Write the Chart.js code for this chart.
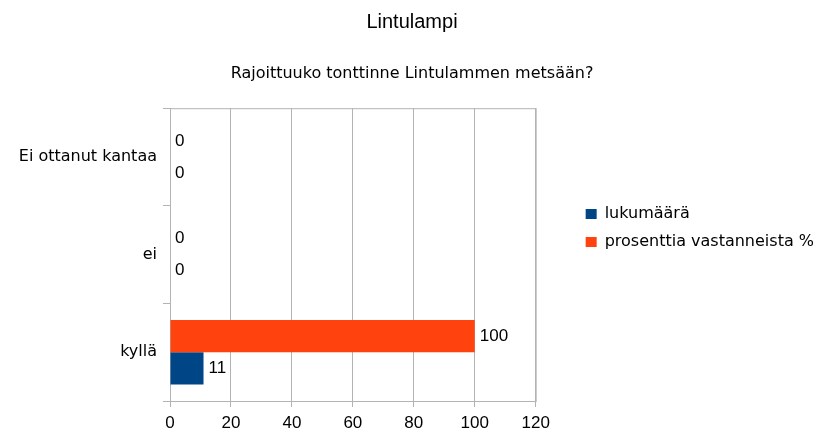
<!DOCTYPE html>
<html>
<head>
<meta charset="utf-8">
<script src="https://cdn.jsdelivr.net/npm/chart.js@4"></script>
<style>
  html, body { margin: 0; padding: 0; background: #fff; }
  #wrap { width: 824px; height: 436px; }
</style>
</head>
<body>
<div id="wrap"><canvas id="chartLintulampi"></canvas></div>
<script>
const kategoriat = ['Ei ottanut kantaa', 'ei', 'kyllä'];
const lukumaara = [0, 0, 11];
const prosentti = [0, 0, 100];
const xTicks = [0, 20, 40, 60, 80, 100, 120];

const harmaa = '#b3b3b3';

// arvot palkkien päähän
const arvoLabelit = {
  id: 'arvoLabelit',
  afterDatasetsDraw(chart) {
    const ctx = chart.ctx;
    ctx.save();
    ctx.font = '17px "Liberation Sans", Arial, sans-serif';
    ctx.fillStyle = '#000';
    ctx.textAlign = 'left';
    ctx.textBaseline = 'middle';
    chart.data.datasets.forEach((ds, i) => {
      chart.getDatasetMeta(i).data.forEach((el, j) => {
        ctx.fillText(ds.data[j], el.x + 5, el.y);
      });
    });
    ctx.restore();
  }
};

// kehys kaavioalueen ympärille
const kehys = {
  id: 'kehys',
  beforeDatasetsDraw(chart) {
    const { ctx, chartArea: a } = chart;
    ctx.save();
    ctx.strokeStyle = harmaa;
    ctx.lineWidth = 1;
    ctx.strokeRect(a.left + 0.5, a.top + 0.5, a.width, a.height);
    ctx.restore();
  }
};

new Chart(document.getElementById('chartLintulampi'), {
  type: 'bar',
  data: {
    labels: kategoriat,
    datasets: [
      {
        label: 'prosenttia vastanneista %',
        data: prosentti,
        backgroundColor: '#ff420e',
        categoryPercentage: 0.66,
        barPercentage: 1
      },
      {
        label: 'lukumäärä',
        data: lukumaara,
        backgroundColor: '#004586',
        categoryPercentage: 0.66,
        barPercentage: 1
      }
    ]
  },
  options: {
    indexAxis: 'y',
    responsive: true,
    maintainAspectRatio: false,
    animation: false,
    layout: { padding: { left: 0, right: 0, top: 0, bottom: 0 } },
    plugins: {
      title: {
        display: true,
        text: 'Lintulampi',
        color: '#000',
        font: { family: '"Liberation Sans", Arial, sans-serif', size: 20, weight: 'normal' },
        padding: { top: 10, bottom: 20 }
      },
      subtitle: {
        display: true,
        text: 'Rajoittuuko tonttinne Lintulammen metsään?',
        color: '#000',
        font: { family: '"DejaVu Sans", sans-serif', size: 16 },
        padding: { top: 10, bottom: 25 }
      },
      legend: {
        position: 'right',
        reverse: true,
        maxWidth: 320,
        title: {
          display: true,
          text: ' ',
          font: { size: 10 },
          padding: { top: 0, bottom: 8 }
        },
        labels: {
          color: '#000',
          boxWidth: 11,
          boxHeight: 10,
          padding: 12,
          font: { family: '"DejaVu Sans", sans-serif', size: 16 }
        }
      },
      tooltip: { enabled: false }
    },
    scales: {
      x: {
        min: 0,
        max: 120,
        afterBuildTicks: s => { s.ticks = xTicks.map(v => ({ value: v })); },
        afterFit: s => { s.height = 35; },
        grid: { color: harmaa, tickLength: 6 },
        border: { color: harmaa },
        ticks: {
          color: '#000',
          padding: 6,
          font: { family: '"Liberation Sans", Arial, sans-serif', size: 17 }
        }
      },
      y: {
        afterFit: s => { s.width = 170; },
        grid: { color: harmaa, drawOnChartArea: false, tickLength: 7 },
        border: { color: harmaa },
        ticks: {
          color: '#000',
          padding: 6,
          font: { family: '"DejaVu Sans", sans-serif', size: 16 }
        }
      },
      tyhja: {
        type: 'linear',
        position: 'right',
        display: true,
        grid: { display: false },
        border: { display: false },
        ticks: { display: false },
        afterFit: s => { s.width = 38; }
      }
    }
  },
  plugins: [arvoLabelit, kehys]
});
</script>
</body>
</html>
